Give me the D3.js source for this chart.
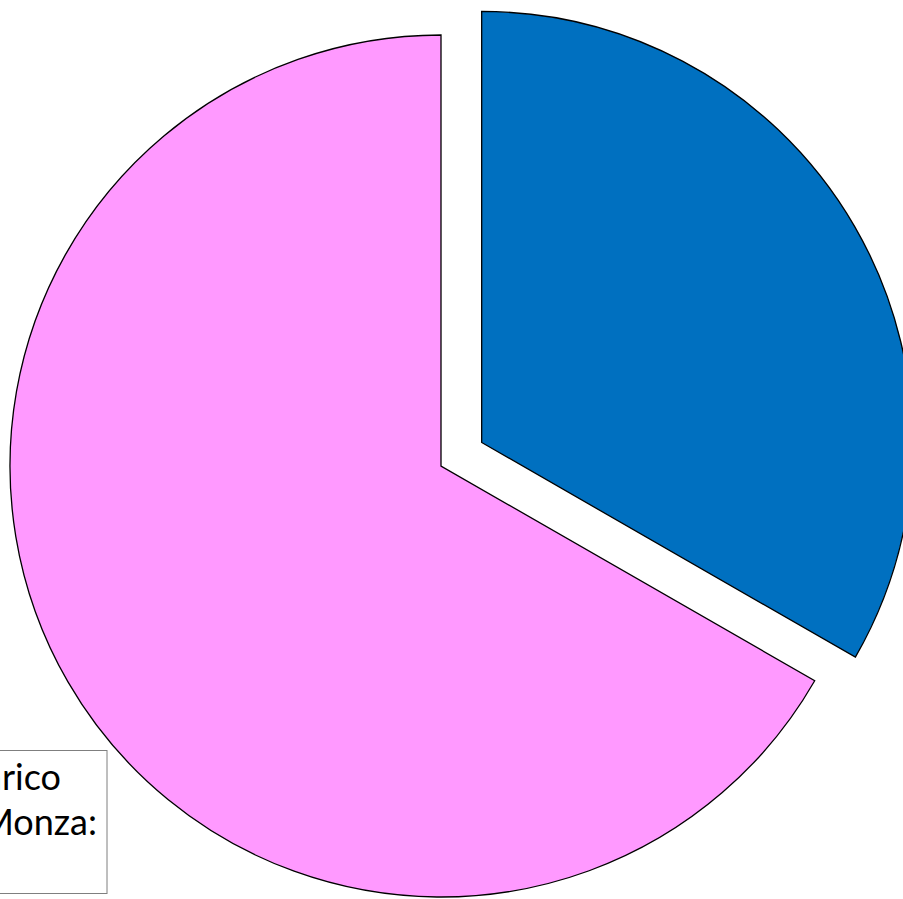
<!DOCTYPE html>
<html>
<head>
<meta charset="utf-8">
<script src="https://cdn.jsdelivr.net/npm/d3@7"></script>
<style>
  html, body { margin: 0; padding: 0; background: #fff; overflow: hidden; }
  svg { display: block; }
</style>
</head>
<body>
<svg id="chart" width="903" height="899"></svg>
<script>
// Data
const categories = ["Fetta A", "Fetta B"];
const values = [33.3, 66.7];
const colors = ["#0070C0", "#FF99FF"];
const explode = [47, 0];
const labelLines = ["Carico", "Monza:"];

const svg = d3.select("#chart");
const cx = 441, cy = 466, r = 431;

const pie = d3.pie().sort(null).value(d => d.value);
const arcs = pie(categories.map((c, i) => ({ name: c, value: values[i], i })));
const arc = d3.arc().innerRadius(0).outerRadius(r);

const g = svg.append("g").attr("transform", `translate(${cx},${cy})`);
g.selectAll("path")
  .data(arcs)
  .join("path")
  .attr("transform", d => {
    const mid = (d.startAngle + d.endAngle) / 2;
    const off = explode[d.data.i];
    return `translate(${Math.sin(mid) * off},${-Math.cos(mid) * off})`;
  })
  .attr("d", arc)
  .attr("fill", d => colors[d.data.i])
  .attr("stroke", "#000")
  .attr("stroke-width", 1.3)
  .attr("stroke-linejoin", "miter");

// Data label box (clipped at left edge as in the reference)
const lg = svg.append("g");
lg.append("rect")
  .attr("x", -2).attr("y", 750.5)
  .attr("width", 109).attr("height", 143)
  .attr("fill", "#fff")
  .attr("stroke", "#7f7f7f")
  .attr("stroke-width", 1);
const lineX = [61, 97];
const lineY = [790, 835];
lg.selectAll("text")
  .data(labelLines)
  .join("text")
  .attr("x", (d, i) => lineX[i])
  .attr("y", (d, i) => lineY[i])
  .attr("text-anchor", "end")
  .attr("font-family", "Lato, 'Open Sans', sans-serif")
  .attr("font-size", 36)
  .attr("fill", "#000")
  .text(d => d);
</script>
</body>
</html>
